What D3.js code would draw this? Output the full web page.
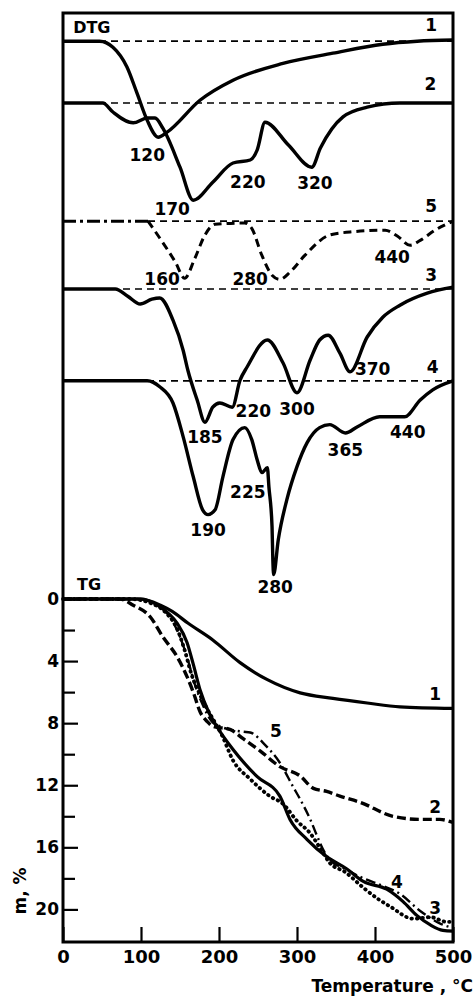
<!DOCTYPE html>
<html>
<head>
<meta charset="utf-8">
<script src="https://cdn.jsdelivr.net/npm/d3@7"></script>
<style>
  body { margin: 0; background: #fff; }
  text { font-family: "DejaVu Sans", sans-serif; font-weight: bold; fill: #000; }
</style>
</head>
<body>
<div id="wrapper"></div>
<script>
// DTG curves: [temperature °C, deflection from own baseline, arb. units]
const dtg1 = [[0,0],[47,0],[64,-1],[82,-4.3],[95,-8.7],[108,-13.2],[122,-16],[133,-15.2],[176,-9.8],[218,-6.5],[282,-3.7],[346,-2],[410,-0.5],[454,0],[500,0.2]];
const dtg2 = [[0,0],[51,0],[64,-1.5],[90,-3.3],[108,-2.5],[118,-2.5],[128,-4.2],[150,-10.7],[167,-16.2],[192,-13.2],[218,-10],[240,-9.5],[249,-7.8],[259,-3.2],[289,-7],[319,-10.7],[330,-7.5],[359,-2.3],[390,-0.7],[432,0],[500,0]];
const dtg3 = [[0,0],[67,0],[83,-1.2],[99,-2.5],[114,-1.7],[124,-1.5],[141,-5.2],[154,-10.2],[160,-13.5],[172,-18.5],[182,-22.2],[192,-19.7],[201,-19],[217,-19.7],[227,-15.2],[236,-13],[262,-8.5],[282,-12.3],[300,-17.3],[317,-11.8],[329,-8.5],[340,-7.7],[355,-10.7],[368,-13.8],[390,-8],[410,-4.7],[432,-2.7],[467,-0.7],[500,0.3]];
const dtg4 = [[0,0],[108,0],[124,-1],[141,-3.7],[154,-9.3],[167,-16],[179,-21.5],[186,-22.3],[195,-21.5],[205,-16],[218,-9.8],[233,-7.8],[242,-9.8],[249,-13.2],[255,-15.3],[262,-14.5],[264,-17.7],[268,-24.3],[269,-29.7],[270,-32.3],[276,-26.5],[287,-19.8],[300,-14.3],[313,-10.3],[329,-7.8],[342,-7.3],[362,-8.7],[377,-7.7],[406,-6],[438,-6],[458,-3.2],[474,-1.5],[500,0]];
const dtg5a = [[0,0],[109,0]];
const dtg5 = [[109,0],[124,-2.8],[144,-6.8],[156,-9.5],[169,-6.2],[182,-2.3],[195,-0.5],[233,-0.3],[242,-1.2],[255,-5.7],[268,-9],[278,-9.7],[291,-8.5],[310,-5.7],[342,-2.3],[368,-1.8],[413,-1.5],[429,-2.5],[445,-4],[458,-3.2],[477,-1.5],[500,0]];
// baseline of each DTG trace (curves 1..5)
const dtgBase = [-4.7, -15, -46, -61.3, -34.7];

// TG curves: [temperature °C, mass loss %]
const tg1 = [[0,0],[100,0],[125,0.4],[140,0.8],[160,1.55],[192,2.64],[227,4.1],[262,5.2],[304,6.05],[346,6.4],[390,6.7],[432,6.95],[500,7.05]];
const tg2 = [[0,0],[73,0],[90,0.4],[112,1.16],[128,2.44],[146,3.7],[159,5.0],[167,6.0],[176,7.3],[185,7.9],[192,8.2],[214,8.4],[231,9.0],[253,9.8],[278,10.8],[304,11.4],[321,12.2],[338,12.4],[355,12.7],[381,13.1],[423,14.0],[458,14.2],[483,14.2],[500,14.4]];
const tg3 = [[0,0],[86,0],[112,0.26],[131,0.84],[147,2.0],[156,3.3],[165,4.9],[176,6.2],[186,7.2],[195,7.97],[204,8.8],[218,10.4],[240,11.6],[265,12.7],[282,13.2],[300,14.3],[317,15.1],[329,16.0],[342,17.0],[362,17.6],[385,18.6],[406,19.4],[419,19.8],[449,20.6],[471,20.5],[492,20.8],[500,20.8]];
const tg4 = [[0,0],[99,0],[124,0.5],[146,1.54],[159,2.8],[167,4.2],[176,5.9],[186,7.2],[197,8.2],[218,9.7],[249,11.45],[278,12.7],[291,14.2],[313,15.5],[338,16.6],[364,17.4],[385,18.2],[415,18.7],[436,19.5],[454,20.4],[471,21.0],[487,21.35],[500,21.4]];
const tg5 = [[0,0],[92,0],[118,0.3],[137,1.16],[150,2.44],[160,3.9],[169,5.5],[179,6.8],[191,7.9],[201,8.2],[231,8.55],[240,8.6],[259,9.4],[278,10.55],[295,12.1],[304,12.9],[317,14.2],[326,15.3],[333,16.1],[342,16.8],[362,17.4],[381,17.9],[406,18.4],[432,19.0],[458,20.1],[483,20.9],[500,21.2]];

const xTicks = [0, 100, 200, 300, 400, 500];
const yMajor = [0, 4, 8, 12, 16, 20];
const yMinor = [2, 6, 10, 14, 18];

// peak labels on DTG: [text, temperature, DTG position]
const dtgLabels = [["120",108,-24.7],["170",140,-33.7],["220",237,-29.2],["320",323,-29.3],
  ["160",127,-45.3],["280",240,-45.3],["440",422,-41.7],["370",397,-60.3],
  ["185",182,-71.7],["220",244,-67.3],["300",300,-67],["365",362,-73.8],["440",442,-70.8],
  ["225",237,-80.8],["190",186,-87.2],["280",272,-96.7],
  ["1",472,-3],["2",471,-12.8],["5",472,-33.2],["3",472,-44.7],["4",474,-60]];
const tgLabels = [["1",477,6.5],["5",273,8.9],["2",477,13.8],["4",428,18.6],["3",477,20.3]];

const width = 476, height = 998;
const svg = d3.select("#wrapper").append("svg")
  .attr("width", width).attr("height", height);
svg.append("rect").attr("width", width).attr("height", height).attr("fill", "#fff");

const x = d3.scaleLinear().domain([0, 500]).range([63, 453]);
const dtgY = d3.scaleLinear().domain([0, -97]).range([13, 595]);
const tgY = d3.scaleLinear().domain([0, 22.1]).range([599, 942]);

const g = svg.append("g");

// DTG baselines
const baseStart = [0, 0, 0, 0, 109];
dtgBase.forEach((b, i) => {
  g.append("line")
    .attr("x1", x(baseStart[i])).attr("x2", x(500))
    .attr("y1", dtgY(b)).attr("y2", dtgY(b))
    .attr("stroke", "#000").attr("stroke-width", 1.7)
    .attr("stroke-dasharray", "7,5");
});

function dtgLine(base) {
  return d3.line()
    .x(d => x(d[0]))
    .y(d => dtgY(base + d[1]))
    .curve(d3.curveMonotoneX);
}
const tgLine = d3.line()
  .x(d => x(d[0]))
  .y(d => tgY(d[1]))
  .curve(d3.curveMonotoneX);

const dtgSeries = [
  { data: dtg1, base: dtgBase[0], dash: null, w: 3.4 },
  { data: dtg2, base: dtgBase[1], dash: null, w: 3.4 },
  { data: dtg3, base: dtgBase[2], dash: null, w: 3.4 },
  { data: dtg4, base: dtgBase[3], dash: null, w: 3.4 },
  { data: dtg5a, base: dtgBase[4], dash: "13,4,3,4", w: 3 },
  { data: dtg5, base: dtgBase[4], dash: "8,5", w: 3 }
];
dtgSeries.forEach(s => {
  g.append("path")
    .attr("d", dtgLine(s.base)(s.data))
    .attr("fill", "none").attr("stroke", "#000")
    .attr("stroke-width", s.w)
    .attr("stroke-linejoin", "round")
    .attr("stroke-dasharray", s.dash);
});

const tgSeries = [
  { data: tg1, dash: null, w: 3.2, cap: "butt" },
  { data: tg2, dash: "9,4", w: 3.4, cap: "butt" },
  { data: tg3, dash: "0.5,5", w: 3.8, cap: "round" },
  { data: tg4, dash: null, w: 3.2, cap: "butt" },
  { data: tg5, dash: "10,4,2,4", w: 2.4, cap: "butt" }
];
tgSeries.forEach(s => {
  g.append("path")
    .attr("d", tgLine(s.data))
    .attr("fill", "none").attr("stroke", "#000")
    .attr("stroke-width", s.w)
    .attr("stroke-linecap", s.cap)
    .attr("stroke-dasharray", s.dash);
});

// frame
svg.append("rect")
  .attr("x", x(0)).attr("y", dtgY(0))
  .attr("width", x(500) - x(0)).attr("height", tgY(22.1) - dtgY(0))
  .attr("fill", "none").attr("stroke", "#000").attr("stroke-width", 3);

// axes
const yAxis = svg.append("g")
  .attr("transform", `translate(${x(0)},0)`)
  .call(d3.axisLeft(tgY).tickValues(yMajor).tickSize(-15).tickPadding(4));
yAxis.select(".domain").remove();
yAxis.selectAll("line").attr("stroke-width", 2.2);
yAxis.selectAll("text").style("font-size", "17px");

const yMinorAxis = svg.append("g")
  .attr("transform", `translate(${x(0)},0)`)
  .call(d3.axisLeft(tgY).tickValues(yMinor).tickSize(-12).tickFormat(""));
yMinorAxis.select(".domain").remove();
yMinorAxis.selectAll("line").attr("stroke-width", 2.2);

const xAxis = svg.append("g")
  .attr("transform", `translate(0,${tgY(22.1)})`)
  .call(d3.axisBottom(x).tickValues(xTicks).tickSize(-15).tickPadding(8));
xAxis.select(".domain").remove();
xAxis.selectAll("line").attr("stroke-width", 2.2);
xAxis.selectAll("text").style("font-size", "18px");

// labels
g.selectAll(".dl").data(dtgLabels).join("text")
  .attr("x", d => x(d[1])).attr("y", d => dtgY(d[2]))
  .attr("text-anchor", "middle").style("font-size", "17px")
  .text(d => d[0]);
g.selectAll(".tl").data(tgLabels).join("text")
  .attr("x", d => x(d[1])).attr("y", d => tgY(d[2]))
  .attr("text-anchor", "middle").style("font-size", "17px")
  .text(d => d[0]);

svg.append("text").attr("x", x(13)).attr("y", dtgY(-3.3))
  .style("font-size", "16px").text("DTG");
svg.append("text").attr("x", x(18)).attr("y", tgY(-0.6))
  .style("font-size", "16px").text("TG");

svg.append("text")
  .attr("x", 473).attr("y", 992)
  .attr("text-anchor", "end").style("font-size", "17px")
  .text("Temperature , °C");

svg.append("text")
  .attr("transform", "translate(26,891) rotate(-90)")
  .attr("text-anchor", "middle").style("font-size", "17px")
  .text("m, %");
</script>
</body>
</html>
